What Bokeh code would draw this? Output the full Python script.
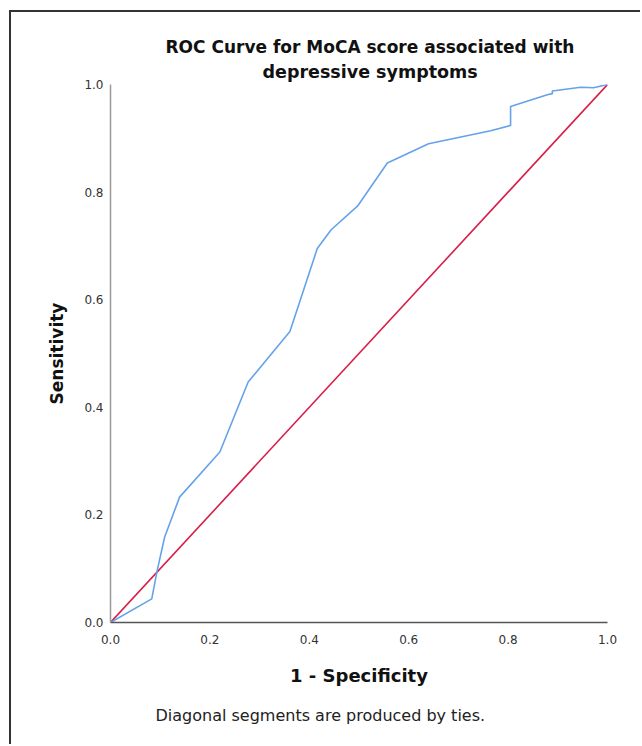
from bokeh.plotting import figure
from bokeh.models import Range1d, Title, FixedTicker, PrintfTickFormatter
from bokeh.embed import file_html
from bokeh.resources import INLINE

# ROC curve
fpr = [0.0, 0.083, 0.094, 0.109, 0.139, 0.220, 0.277, 0.361, 0.416, 0.444,
       0.498, 0.557, 0.640, 0.765, 0.805, 0.805, 0.879, 0.889, 0.889, 0.946,
       0.972, 1.0]
tpr = [0.0, 0.044, 0.097, 0.159, 0.233, 0.317, 0.447, 0.541, 0.695, 0.730,
       0.775, 0.854, 0.890, 0.914, 0.924, 0.959, 0.981, 0.983, 0.988, 0.995,
       0.994, 1.0]
ref_x = [0.0, 1.0]
ref_y = [0.0, 1.0]
ticks = [0.0, 0.2, 0.4, 0.6, 0.8, 1.0]

FONT = "DejaVu Sans"

p = figure(width=631, height=734, output_backend="svg", toolbar_location=None,
           x_range=Range1d(0, 1), y_range=Range1d(0, 1),
           min_border_left=99, min_border_right=35,
           min_border_top=72, min_border_bottom=124)
p.styles = {"margin-left": "9px", "margin-top": "10px",
            "border-top": "2px solid #333333", "border-left": "2px solid #333333"}
p.outline_line_color = None
p.grid.grid_line_color = None
p.background_fill_color = "white"
p.border_fill_color = "white"

p.line(ref_x, ref_y, line_color="#d81e4a", line_width=1.6)
p.line(fpr, tpr, line_color="#65a2ea", line_width=1.6)

for ax in (p.xaxis[0], p.yaxis[0]):
    ax.ticker = FixedTicker(ticks=ticks)
    ax.formatter = PrintfTickFormatter(format="%.1f")
    ax.major_tick_line_color = None
    ax.minor_tick_line_color = None
    ax.major_tick_out = 0
    ax.major_tick_in = 0
    ax.axis_line_width = 1.5
    ax.major_label_text_font = FONT
    ax.major_label_text_font_size = "12px"
    ax.major_label_text_color = "#333333"
    ax.axis_label_text_font = FONT
    ax.axis_label_text_font_style = "bold"
    ax.axis_label_text_color = "#111111"

p.xaxis[0].axis_label_text_font_size = "18px"
p.yaxis[0].axis_label_text_font_size = "17px"
p.xaxis[0].axis_line_color = "#555555"
p.yaxis[0].axis_line_color = "#999999"
p.xaxis[0].axis_label = "1 - Specificity"
p.yaxis[0].axis_label = "Sensitivity"
p.xaxis[0].major_label_standoff = 12
p.yaxis[0].major_label_standoff = 7
p.xaxis[0].axis_label_standoff = 18
p.yaxis[0].axis_label_standoff = 14

title1 = "ROC Curve for MoCA score associated with"
title2 = "depressive symptoms"
footnote = "Diagonal segments are produced by ties."

p.add_layout(Title(text=title2, align="left", offset=152, standoff=6,
                   text_font=FONT, text_font_size="17.5px", text_font_style="bold",
                   text_color="#111111"), "above")
p.add_layout(Title(text=title1, align="left", offset=55, standoff=0,
                   text_font=FONT, text_font_size="17px", text_font_style="bold",
                   text_color="#111111"), "above")
p.add_layout(Title(text=footnote, align="left", offset=45, standoff=30,
                   text_font=FONT, text_font_size="16px", text_font_style="normal",
                   text_color="#222222"), "below")

open("out.html", "w").write(file_html(p, INLINE))
